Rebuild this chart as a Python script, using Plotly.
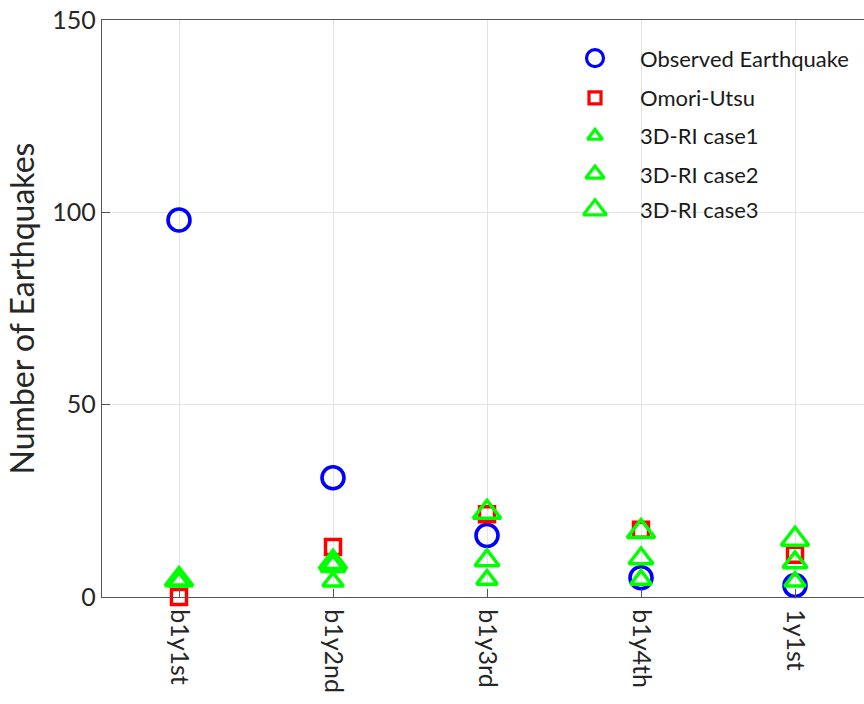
import plotly.graph_objects as go

# Periods and earthquake counts per model
periods = ["b1y1st", "b1y2nd", "b1y3rd", "b1y4th", "1y1st"]
observed = [98, 31, 16, 5, 3]
omori_utsu = [0, 13, 21.5, 17.5, 11]
ri_case1 = [4, 4, 4.5, 4.5, 4]
ri_case2 = [4.5, 8, 9.5, 10, 9]
ri_case3 = [4.5, 9, 22, 17, 15]

series_names = ["Observed Earthquake", "Omori-Utsu", "3D-RI case1", "3D-RI case2", "3D-RI case3"]

FONT = "Lato"
TXT = "#262626"
BLUE = "#0000ff"
RED = "#ff0000"
GREEN = "#00ff00"

x_pos = list(range(1, len(periods) + 1))

styles = [
    dict(symbol="circle-open", color=BLUE, size=22, lw=3.6),
    dict(symbol="square-open", color=RED, size=15, lw=3.5),
    dict(symbol="triangle-up-open", color=GREEN, size=18, lw=3.5),
    dict(symbol="triangle-up-open", color=GREEN, size=21, lw=3.5),
    dict(symbol="triangle-up-open", color=GREEN, size=24, lw=3.5),
]
values = [observed, omori_utsu, ri_case1, ri_case2, ri_case3]

fig = go.Figure()
for name, vals, st in zip(series_names, values, styles):
    fig.add_trace(go.Scatter(
        x=x_pos, y=vals, mode="markers", name=name, showlegend=False,
        marker=dict(symbol=st["symbol"], size=st["size"], color=st["color"],
                    line=dict(width=st["lw"], color=st["color"])),
        cliponaxis=False,
    ))

# Legend drawn on an overlay axis spanning the plot area
leg_x_marker = 0.647
leg_x_text = 0.704
leg_rows = [0.934, 0.865, 0.799, 0.733, 0.671]
leg_sizes = [17, 12, 13, 16, 20]
for name, st, yy, sz in zip(series_names, styles, leg_rows, leg_sizes):
    fig.add_trace(go.Scatter(
        x=[leg_x_marker], y=[yy], xaxis="x2", yaxis="y2", mode="markers",
        showlegend=False, hoverinfo="skip",
        marker=dict(symbol=st["symbol"], size=sz, color=st["color"],
                    line=dict(width=3.2, color=st["color"])),
    ))
    fig.add_annotation(x=leg_x_text, y=yy, xref="x2", yref="y2", text=name,
                       showarrow=False, xanchor="left", yanchor="middle",
                       font=dict(family=FONT, size=22, color="#1a1a1a"))

fig.update_layout(
    width=864, height=704,
    margin=dict(l=102, r=0, t=20, b=107),
    paper_bgcolor="white", plot_bgcolor="white",
    font=dict(family=FONT, color=TXT),
    showlegend=False,
    xaxis=dict(
        range=[0.5, 5.448], tickmode="array", tickvals=x_pos, ticktext=periods,
        tickangle=90, tickfont=dict(size=25, color=TXT), ticklabelstandoff=6,
        showgrid=True, gridcolor="#e3e3e3", gridwidth=1,
        showline=True, linecolor="#555555", linewidth=1.3, mirror=True,
        ticks="inside", ticklen=8, tickcolor="#555555", zeroline=False,
    ),
    yaxis=dict(
        range=[0, 150], tickvals=[0, 50, 100, 150],
        tickfont=dict(size=25, color=TXT),
        title=dict(text="Number of Earthquakes", font=dict(size=32, color=TXT), standoff=8),
        showgrid=True, gridcolor="#e3e3e3", gridwidth=1,
        showline=True, linecolor="#555555", linewidth=1.3,
        ticks="inside", ticklen=8, tickcolor="#555555", zeroline=False,
    ),
    xaxis2=dict(domain=[0, 1], range=[0, 1], anchor="y2", visible=False, overlaying="x"),
    yaxis2=dict(domain=[0, 1], range=[0, 1], anchor="x2", visible=False, overlaying="y"),
)

fig.write_html("out.html")
